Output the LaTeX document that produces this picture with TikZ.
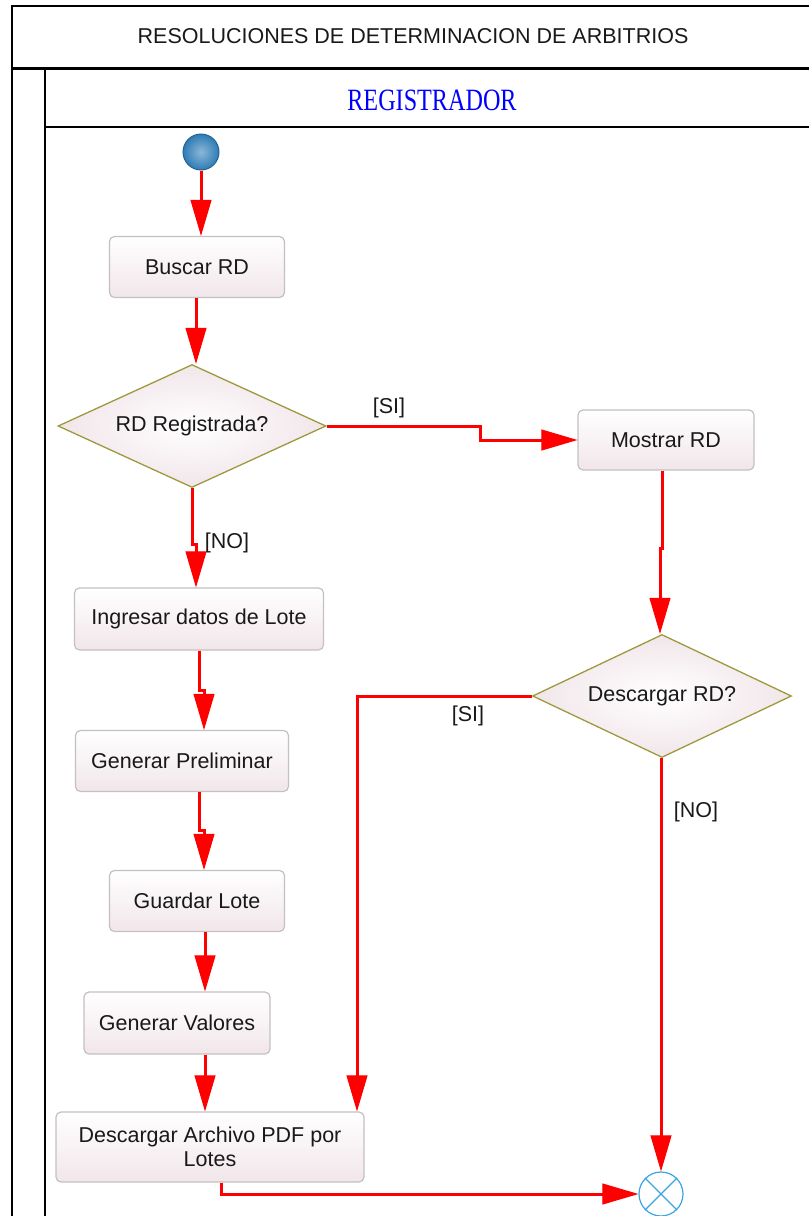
\documentclass[tikz,border=0pt]{standalone}
\usepackage{fontspec}
\setmainfont{Liberation Sans}
\newfontfamily\lserif{Liberation Serif}
\usepackage{graphicx}
\usetikzlibrary{shapes.geometric,arrows.meta,calc}
\definecolor{boxpink}{HTML}{F1E6EA}
\definecolor{boxline}{HTML}{C4C0C2}
\definecolor{olive}{HTML}{9C9A3C}
\definecolor{lanered}{HTML}{FF0000}
\definecolor{startblue}{HTML}{2E7CB6}
\definecolor{finalblue}{HTML}{3AA4E4}
\begin{document}
\begin{tikzpicture}[x=1pt,y=-1pt,
  txt/.style={font=\fontsize{21.5}{25}\selectfont, text=black!90},
  actbox/.style={txt, draw=boxline, line width=1.2pt, rounded corners=5pt,
     top color=white, bottom color=boxpink, inner sep=0pt, align=center},
  decis/.style={txt, diamond, shape aspect=2.18, draw=olive, line width=1.3pt, inner sep=0pt,
     inner color=white, outer color=boxpink},
  flow/.style={draw=lanered, line width=3pt,
     -{Triangle[length=36pt,width=21pt,line width=1pt]}},
  lbl/.style={txt, inner sep=0pt}
]
\useasboundingbox (0,0) rectangle (809,1216);
% frame
\draw[line width=2pt] (12,1216) -- (12,6) -- (809,6);
\draw[line width=3pt] (12,68) -- (809,68);
\draw[line width=2pt] (45,68) -- (45,1216);
\draw[line width=1.5pt] (45,127) -- (809,127);
\node[lbl] (title) at (413,36) {RESOLUCIONES DE DETERMINACION DE ARBITRIOS};
\node[inner sep=0pt, text=blue] (lane) at (432,100) {\scalebox{0.78}[1]{\lserif\fontsize{31}{34}\selectfont REGISTRADOR}};

% nodes
\node[circle, minimum size=36pt, inner sep=0pt, draw=startblue!80!black, line width=1pt,
  inner color=startblue!55!white, outer color=startblue] (start) at (201,152) {};
\node[actbox, minimum width=175pt, minimum height=61pt] (buscar) at (197,267) {Buscar RD};
\node[decis, minimum width=268pt, minimum height=123pt] (d1) at (192,426) {RD Registrada?};
\node[actbox, minimum width=176pt, minimum height=60pt] (mostrar) at (666,440) {Mostrar RD};
\node[actbox, minimum width=249pt, minimum height=62pt] (ingresar) at (199,619) {Ingresar datos de Lote};
\node[decis, minimum width=259pt, minimum height=123pt] (d2) at (662,696) {Descargar RD?};
\node[actbox, minimum width=213pt, minimum height=61pt] (prelim) at (182,761) {Generar Preliminar};
\node[actbox, minimum width=175pt, minimum height=61pt] (guardar) at (197,901) {Guardar Lote};
\node[actbox, minimum width=186pt, minimum height=62pt] (valores) at (177,1023) {Generar Valores};
\node[actbox, minimum width=308pt, minimum height=70pt] (pdf) at (210,1147) {Descargar Archivo PDF por\\[-1pt]Lotes};
\node[circle, minimum size=44pt, inner sep=0pt, draw=finalblue, line width=1.2pt, fill=white] (final) at (661,1194) {};
\draw[finalblue, line width=1.2pt] (final.north west) -- (final.south east) (final.north east) -- (final.south west);

% connectors
\draw[flow] (start.south) -- (start.south |- buscar.north);
\draw[flow] ([xshift=-1pt]buscar.south) -- ([xshift=-1pt]buscar.south |- d1.north);
\draw[flow] (d1.east) -- ++(154,0) coordinate (c1) |- (mostrar.west);
\node[lbl] (si1) at (389,408) {[SI]};
\draw[flow] (d1.south) -- ++(0,56) coordinate (c2) -| ([xshift=-3pt]ingresar.north);
\node[lbl] (no1) at (227,543) {[NO]};
\draw[flow] ([xshift=-4pt]mostrar.south) -- ++(0,78) coordinate (c3) -| ([xshift=-2pt]d2.north);
\draw[flow] (d2.west) -| ([xshift=147pt]pdf.north);
\node[lbl] (si2) at (468,716) {[SI]};
\draw[flow] ([xshift=-1pt]d2.south) -- ([xshift=-1pt]d2.south |- final.north);
\node[lbl] (no2) at (696,812) {[NO]};
\draw[flow] (ingresar.south) -- ++(0,40) coordinate (c4) -| ([xshift=22pt]prelim.north);
\draw[flow] ([xshift=17pt]prelim.south) -- ++(0,38) coordinate (c5) -| ([xshift=7pt]guardar.north);
\draw[flow] ([xshift=8pt]guardar.south) -- ([xshift=8pt]guardar.south |- valores.north);
\draw[flow] ([xshift=28pt]valores.south) -- ([xshift=28pt]valores.south |- pdf.north);
\draw[flow] ([xshift=11pt]pdf.south) |- (final.west);
\end{tikzpicture}
\end{document}
